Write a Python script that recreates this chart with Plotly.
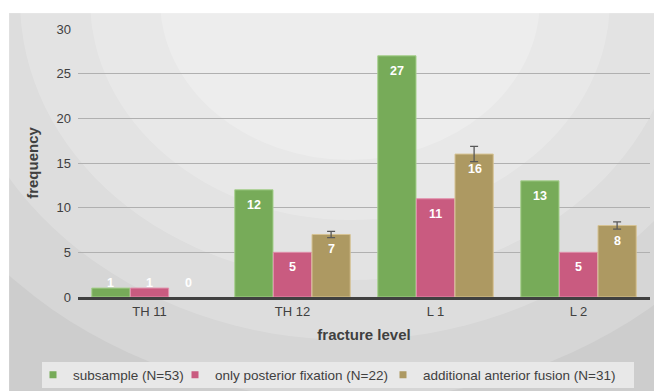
import plotly.graph_objects as go

categories = ["TH 11", "TH 12", "L 1", "L 2"]
subsample = [1, 12, 27, 13]
posterior = [1, 5, 11, 5]
anterior = [0, 7, 16, 8]
anterior_err = [None, 0.35, 0.85, 0.4]
series_names = ["subsample (N=53)", "only posterior fixation (N=22)", "additional anterior fusion (N=31)"]
colors = ["#77ab59", "#c95b80", "#ad9962"]
edge_colors = ["#a5cf8c", "#e291ad", "#d6c393"]

OFF = 8  # page body margin
W, H = 662 - OFF, 391 - OFF
L, T = 78 - OFF, 29 - OFF
pw, ph = 572, 268
R, B = W - L - pw, H - T - ph
YMAX = 30

def px(x):  # page pixel -> paper x
    return (x - OFF - L) / pw

def py(y):  # page pixel -> paper y
    return (T + ph - (y - OFF)) / ph

fig = go.Figure()

legend_names = ["legend", "legend2", "legend3"]
groups = ["g1", "g2", "g3"]
text_starts = [73, 215, 423]
all_series = [subsample, posterior, anterior]
for i, (vals, name) in enumerate(zip(all_series, series_names)):
    fig.add_trace(go.Bar(
        x=categories, y=vals, name=name, showlegend=False, offsetgroup=groups[i],
        marker=dict(color=colors[i],
                    line=dict(color=edge_colors[i], width=[0 if v == 0 else 1 for v in vals])),
        cliponaxis=False,
    ))
    fig.add_trace(go.Scatter(
        x=[None], y=[None], mode="markers", name=name, legend=legend_names[i],
        marker=dict(symbol="square", size=7, color=colors[i]),
    ))

# error bars of the third series, only where an error is given
ex = [c for c, e in zip(categories, anterior_err) if e is not None]
ey = [v for v, e in zip(anterior, anterior_err) if e is not None]
ee = [e for e in anterior_err if e is not None]
fig.add_trace(go.Bar(
    x=ex, y=ey, offsetgroup=groups[2], showlegend=False, hoverinfo="skip",
    marker=dict(color="rgba(0,0,0,0)", line=dict(width=0)),
    error_y=dict(type="data", array=ee, visible=True, color="#595959", thickness=1.3, width=4),
))

offsets = [-39, 0, 39]
ann = []
unit_px = ph / YMAX
for i, vals in enumerate(all_series):
    for c, v in zip(categories, vals):
        if v * unit_px >= 30:
            y, ys = v, -15
        else:
            y, ys = 0, 14
        ann.append(dict(x=c, y=y, xref="x", yref="y", text=f"<b>{v}</b>", showarrow=False,
                        xshift=offsets[i], yshift=ys,
                        font=dict(color="white", size=12.5, family="Liberation Sans")))

shapes = [
    dict(type="rect", xref="paper", yref="paper", layer="below",
         x0=px(9), x1=px(655), y0=py(420), y1=py(13),
         fillcolor="#cdcdcd", line=dict(color="#d5d5d5", width=1)),
]
cx, cy = 350, 0
for rx, ry, op in [(470, 400, 0.18), (400, 340, 0.18), (330, 280, 0.2), (260, 220, 0.2), (190, 160, 0.22)]:
    shapes.append(dict(type="circle", xref="paper", yref="paper", layer="below",
                       x0=px(cx - rx), x1=px(cx + rx), y0=py(cy + ry), y1=py(cy - ry),
                       fillcolor="white", opacity=op, line=dict(width=0)))
shapes += [
    dict(type="rect", xref="paper", yref="paper", layer="below",
         x0=px(-300), x1=px(1000), y0=py(13), y1=py(-600), fillcolor="white", line=dict(width=0)),
    dict(type="rect", xref="paper", yref="paper", layer="below",
         x0=px(-300), x1=px(9), y0=py(1000), y1=py(-600), fillcolor="white", line=dict(width=0)),
    dict(type="rect", xref="paper", yref="paper", layer="below",
         x0=px(655), x1=px(1000), y0=py(1000), y1=py(-600), fillcolor="white", line=dict(width=0)),
    dict(type="rect", xref="paper", yref="paper", layer="below",
         x0=px(42), x1=px(634), y0=py(388), y1=py(362),
         fillcolor="#e8e8e8", line=dict(width=0)),
]

legend_common = dict(orientation="h", yanchor="middle", y=py(375), xanchor="left",
                     bgcolor="rgba(0,0,0,0)", font=dict(size=13.5, color="#404040"),
                     itemwidth=30, borderwidth=0)

fig.update_layout(
    width=W, height=H,
    margin=dict(l=L, r=R, t=T, b=B, autoexpand=False),
    paper_bgcolor="white",
    plot_bgcolor="rgba(250,250,250,0.3)",
    barmode="group",
    bargap=0.19,
    bargroupgap=0.01,
    font=dict(family="Liberation Sans, Arial", size=12, color="#404040"),
    shapes=shapes,
    annotations=ann,
    showlegend=True,
    legend=dict(x=px(text_starts[0] - 40), **legend_common),
    legend2=dict(x=px(text_starts[1] - 40), **legend_common),
    legend3=dict(x=px(text_starts[2] - 40), **legend_common),
)
fig.update_yaxes(range=[0, YMAX], dtick=5, showgrid=True, gridcolor="#b0b0b0", gridwidth=1,
                 zeroline=False, showline=False, ticks="", ticklabelstandoff=6,
                 title=dict(text="<b>frequency</b>", font=dict(size=15, color="#404040"), standoff=14),
                 tickfont=dict(size=13, color="#404040"))
fig.update_xaxes(showline=True, linecolor="#404040", linewidth=3, ticks="",
                 title=dict(text="<b>fracture level</b>", font=dict(size=15, color="#404040"), standoff=12),
                 tickfont=dict(size=13, color="#404040"))

fig.write_html("out.html")
